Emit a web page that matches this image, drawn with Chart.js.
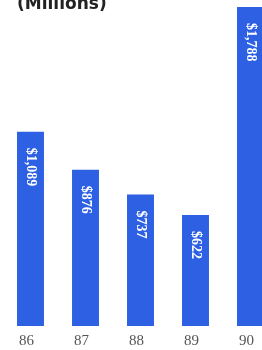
<!DOCTYPE html>
<html>
<head>
<meta charset="utf-8">
<script src="https://cdn.jsdelivr.net/npm/chart.js@4"></script>
<style>
  html, body { margin: 0; padding: 0; background: #fff; overflow: hidden; }
  #wrap { position: relative; width: 262px; height: 350px; overflow: hidden; }
  #title {
    position: absolute; left: 17px; top: -7px;
    font: bold 17px "DejaVu Sans", sans-serif; color: #222;
    white-space: nowrap;
  }
  #box { position: absolute; left: 0; top: 0; width: 280px; height: 360px; }
</style>
</head>
<body>
<div id="wrap">
  <div id="box"><canvas id="BarChart"></canvas></div>
  <div id="title">(Millions)</div>
</div>
<script>
  let years = ['86', '87', '88', '89', '90'];
  let amounts = [1089, 876, 737, 622, 1788];
  let barColor = '#2d60e3';

  // white dollar labels running down inside each bar
  const valueLabels = {
    id: 'valueLabels',
    afterDatasetsDraw(chart) {
      const ctx = chart.ctx;
      const meta = chart.getDatasetMeta(0);
      ctx.save();
      ctx.fillStyle = '#fff';
      ctx.font = 'bold 14px "Liberation Serif", serif';
      ctx.textAlign = 'left';
      ctx.textBaseline = 'middle';
      meta.data.forEach((bar, i) => {
        ctx.save();
        ctx.translate(bar.x, bar.y + 16);
        ctx.rotate(Math.PI / 2);
        ctx.fillText('$' + amounts[i].toLocaleString('en-US'), 0, 0);
        ctx.restore();
      });
      ctx.restore();
    }
  };

  function drawChart() {
    const ctx = document.getElementById('BarChart').getContext('2d');
    new Chart(ctx, {
      type: 'bar',
      data: {
        labels: years,
        datasets: [{
          data: amounts,
          backgroundColor: barColor,
          barPercentage: 0.49,
          categoryPercentage: 1
        }]
      },
      options: {
        responsive: true,
        maintainAspectRatio: false,
        animation: false,
        layout: { padding: { left: 3, right: 2, top: 7, bottom: 4 } },
        plugins: {
          legend: { display: false },
          tooltip: { enabled: false }
        },
        scales: {
          x: {
            grid: { display: false, drawTicks: false },
            border: { display: false },
            ticks: {
              color: '#555',
              padding: 6,
              labelOffset: -4,
              font: { family: '"Liberation Serif", serif', size: 15 }
            }
          },
          y: {
            display: false,
            min: 0,
            max: 1788
          }
        }
      },
      plugins: [valueLabels]
    });
  }

  document.addEventListener('DOMContentLoaded', drawChart);
</script>
</body>
</html>
